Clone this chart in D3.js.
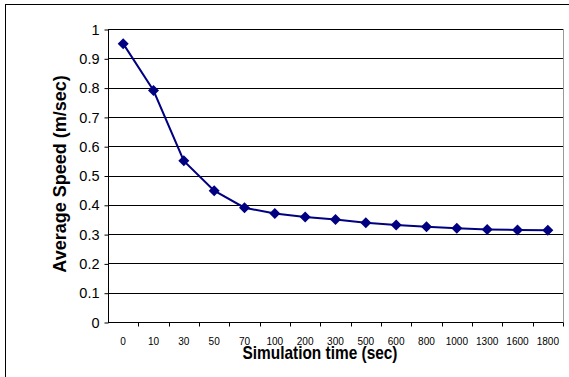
<!DOCTYPE html>
<html lang="en">
<head>
  <meta charset="UTF-8" />
  <title>Average Speed vs Simulation time</title>
  <script src="https://d3js.org/d3.v7.min.js"></script>
  <style>
    body {
      margin: 0;
      background: #fff;
      font-family: "Liberation Sans", Arial, sans-serif;
    }
  </style>
</head>
<body>
<svg id="chart"></svg>

<script>
const times = ["0", "10", "30", "50", "70", "100", "200", "300", "500", "600", "800", "1000", "1300", "1600", "1800"];
const speeds = [0.95, 0.79, 0.55, 0.448, 0.39, 0.37, 0.358, 0.35, 0.339, 0.331, 0.325, 0.32, 0.316, 0.314, 0.313];
const yTicks = [0, 0.1, 0.2, 0.3, 0.4, 0.5, 0.6, 0.7, 0.8, 0.9, 1];

const width = 569, height = 377;
const margin = {top: 29, right: 6, bottom: 55, left: 108};

const svg = d3.select("#chart").attr("width", width).attr("height", height);

// outer chart frame
svg.append("rect")
  .attr("x", 5.5).attr("y", 4.5)
  .attr("width", 600).attr("height", 400)
  .attr("fill", "none").attr("stroke", "#000");

const x = d3.scaleBand().domain(times).range([margin.left, width - margin.right]);
const y = d3.scaleLinear().domain([0, 1]).range([height - margin.bottom, margin.top]);

// plot area border (gray)
svg.append("rect")
  .attr("x", margin.left + 0.5).attr("y", margin.top + 0.5)
  .attr("width", width - margin.right - margin.left)
  .attr("height", height - margin.bottom - margin.top)
  .attr("fill", "none").attr("stroke", "#999");

// gridlines
svg.append("g")
  .selectAll("line")
  .data(yTicks.filter(d => d > 0))
  .enter().append("line")
  .attr("x1", margin.left).attr("x2", width - margin.right)
  .attr("y1", d => Math.round(y(d)) + 0.5).attr("y2", d => Math.round(y(d)) + 0.5)
  .attr("stroke", "#000");

// y axis
const yAxis = svg.append("g")
  .attr("transform", `translate(${margin.left + 0.5},0.5)`)
  .call(d3.axisLeft(y).tickValues(yTicks).tickSize(4).tickPadding(5).tickFormat(d3.format("")));
yAxis.selectAll("line, path").attr("stroke", "#000");
yAxis.select(".domain").attr("d", `M0,${margin.top}V${height - margin.bottom}`);
yAxis.selectAll("text").attr("font-size", 14.5).attr("font-family", "Liberation Sans, Arial, sans-serif").attr("fill", "#000");

// x axis with ticks on category boundaries
const xAxisG = svg.append("g")
  .attr("transform", `translate(0,${Math.round(y(0)) + 0.5})`);
xAxisG.append("line")
  .attr("x1", margin.left).attr("x2", width - margin.right)
  .attr("stroke", "#000");
xAxisG.selectAll(".tick")
  .data(times)
  .enter().append("line")
  .attr("x1", d => Math.round(x(d) + x.bandwidth()) + 0.5)
  .attr("x2", d => Math.round(x(d) + x.bandwidth()) + 0.5)
  .attr("y1", 0).attr("y2", 4)
  .attr("stroke", "#000");
xAxisG.selectAll("text")
  .data(times)
  .enter().append("text")
  .attr("x", d => x(d) + x.bandwidth() / 2)
  .attr("y", 22)
  .attr("text-anchor", "middle")
  .attr("font-size", 11.5)
  .attr("textLength", d => d.length * 5.6)
  .attr("lengthAdjust", "spacingAndGlyphs")
  .text(d => d);

// axis titles
svg.append("text")
  .attr("x", 320).attr("y", 359)
  .attr("text-anchor", "middle")
  .attr("font-size", 18.5).attr("font-weight", "bold")
  .attr("textLength", 155)
  .attr("lengthAdjust", "spacingAndGlyphs")
  .text("Simulation time (sec)");

svg.append("text")
  .attr("transform", "translate(66,174) rotate(-90)")
  .attr("text-anchor", "middle")
  .attr("font-size", 18).attr("font-weight", "bold")
  .text("Average Speed (m/sec)");

// series
const line = d3.line()
  .x((d, i) => x(times[i]) + x.bandwidth() / 2)
  .y(d => y(d));

svg.append("path")
  .datum(speeds)
  .attr("d", line)
  .attr("fill", "none")
  .attr("stroke", "#000080")
  .attr("stroke-width", 2);

svg.append("g")
  .selectAll("path")
  .data(speeds)
  .enter().append("path")
  .attr("transform", (d, i) => `translate(${x(times[i]) + x.bandwidth() / 2},${y(d)})`)
  .attr("d", "M0,-5.5L5.5,0L0,5.5L-5.5,0Z")
  .attr("fill", "#000080");
</script>
</body>
</html>
